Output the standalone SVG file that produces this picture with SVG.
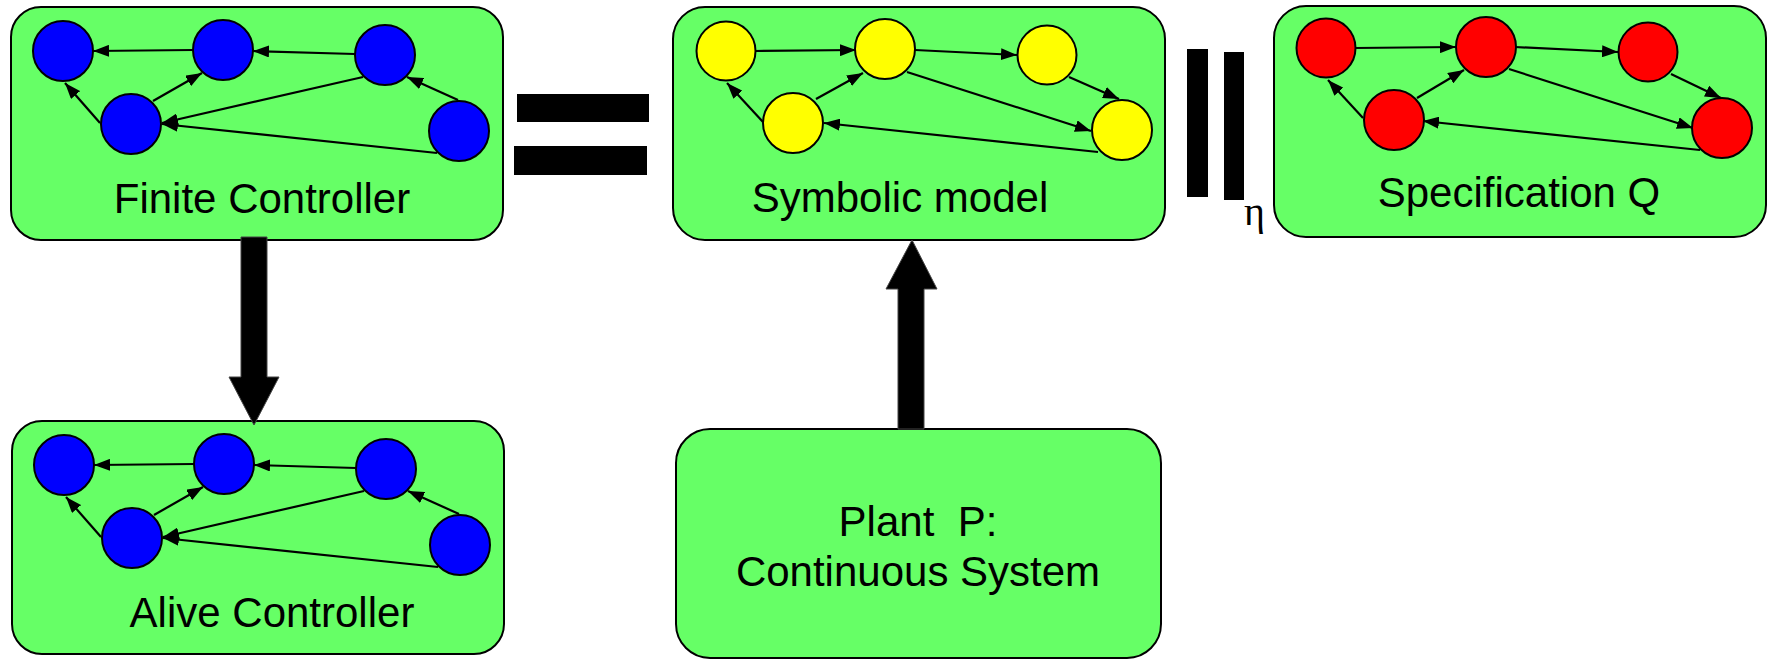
<svg xmlns="http://www.w3.org/2000/svg" width="1768" height="660" viewBox="0 0 1768 660">
  <style>
    .box { fill: #66ff66; stroke: #000; stroke-width: 2; }
    .blue { fill: #0000ff; stroke: #000; stroke-width: 2; }
    .yellow { fill: #ffff00; stroke: #000; stroke-width: 2; }
    .red { fill: #ff0000; stroke: #000; stroke-width: 2; }
    .edge { fill: none; stroke: #000; stroke-width: 2.2; marker-end: url(#tip); }
    .label { font-family: "Liberation Sans", Arial, sans-serif; font-size: 42px; fill: #000; text-anchor: middle; }
    .bar { fill: #000; }
    .big { fill: #000; stroke: #444; stroke-width: 1; }
  </style>
  <defs>
    <marker id="tip" viewBox="0 0 16 12" refX="16" refY="6" markerWidth="16" markerHeight="12" markerUnits="userSpaceOnUse" orient="auto">
      <path d="M0,0 L16,6 L0,12 z" fill="#000"/>
    </marker>
    <!-- controller automaton, reused for the finite and the alive controller -->
    <g id="ctrl-graph">
      <path class="edge" d="M193,50 L93,51"/>
      <path class="edge" d="M355,54 L253,51"/>
      <path class="edge" d="M153,101 L202,73"/>
      <path class="edge" d="M100,123 L65,83"/>
      <path class="edge" d="M363,77 L162,123"/>
      <path class="edge" d="M437,153 L162,124"/>
      <path class="edge" d="M458,100 L407,77"/>
      <circle class="blue" cx="63" cy="51" r="30"/>
      <circle class="blue" cx="223" cy="50" r="30"/>
      <circle class="blue" cx="385" cy="55" r="30"/>
      <circle class="blue" cx="131" cy="124" r="30"/>
      <circle class="blue" cx="459" cy="131" r="30"/>
    </g>
  </defs>

  <g id="finite-controller">
    <rect class="box" x="11" y="7" width="492" height="233" rx="30"/>
    <use href="#ctrl-graph"/>
    <text class="label" x="262" y="213">Finite Controller</text>
  </g>

  <g id="alive-controller">
    <rect class="box" x="12" y="421" width="492" height="233" rx="30"/>
    <use href="#ctrl-graph" transform="translate(1,414)"/>
    <text class="label" x="272" y="627">Alive Controller</text>
  </g>

  <g id="symbolic-model">
    <rect class="box" x="673" y="7" width="492" height="233" rx="32"/>
    <path class="edge" d="M755,51 L856,50"/>
    <path class="edge" d="M816,99 L863,73"/>
    <path class="edge" d="M763,122 L727,83"/>
    <path class="edge" d="M915,50 L1017,55"/>
    <path class="edge" d="M907,72 L1091,131"/>
    <path class="edge" d="M1069,77 L1119,99"/>
    <path class="edge" d="M1098,152 L824,123"/>
    <circle class="yellow" cx="726" cy="51" r="29.5"/>
    <circle class="yellow" cx="885" cy="49" r="30"/>
    <circle class="yellow" cx="1047" cy="55" r="29.5"/>
    <circle class="yellow" cx="793" cy="123" r="30"/>
    <circle class="yellow" cx="1122" cy="130" r="30"/>
    <text class="label" x="900" y="212">Symbolic model</text>
  </g>

  <g id="specification">
    <rect class="box" x="1274" y="6" width="492" height="231" rx="32"/>
    <path class="edge" d="M1355,48 L1456,47"/>
    <path class="edge" d="M1417,98 L1464,70"/>
    <path class="edge" d="M1363,118 L1328,80"/>
    <path class="edge" d="M1515,47 L1618,52"/>
    <path class="edge" d="M1509,69 L1693,128"/>
    <path class="edge" d="M1671,74 L1721,98"/>
    <path class="edge" d="M1700,150 L1423,121"/>
    <circle class="red" cx="1326" cy="48" r="29.5"/>
    <circle class="red" cx="1486" cy="47" r="30"/>
    <circle class="red" cx="1648" cy="52" r="29.5"/>
    <circle class="red" cx="1394" cy="120" r="30"/>
    <circle class="red" cx="1722" cy="128" r="30"/>
    <text class="label" x="1519" y="207">Specification Q</text>
  </g>

  <g id="plant">
    <rect class="box" x="676" y="429" width="485" height="229" rx="34"/>
    <text class="label" x="918" y="536" xml:space="preserve">Plant  P:</text>
    <text class="label" x="918" y="586">Continuous System</text>
  </g>

  <g id="relations">
    <!-- equality between controller and symbolic model -->
    <rect class="bar" x="517" y="94" width="132" height="28"/>
    <rect class="bar" x="514" y="146" width="133" height="29"/>
    <!-- approximate equivalence symbol with its eta subscript -->
    <rect class="bar" x="1187" y="49" width="21" height="148"/>
    <rect class="bar" x="1224" y="52" width="20" height="148"/>
    <text x="1244" y="225" font-family="Liberation Serif, 'Times New Roman', serif" font-size="40" fill="#000">η</text>
  </g>

  <g id="connectors">
    <!-- refinement: finite controller to alive controller -->
    <path class="big" d="M241,237 L267,237 L267,377 L279,377 L254,425 L229,377 L241,377 Z"/>
    <!-- abstraction: plant to symbolic model -->
    <path class="big" d="M898,429 L898,289 L886,289 L912,240 L937,289 L924,289 L924,429 Z"/>
  </g>
</svg>
